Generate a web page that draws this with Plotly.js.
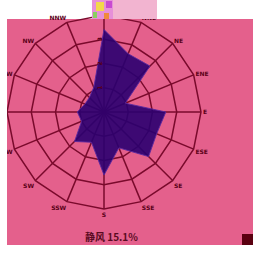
<!DOCTYPE html>
<html><head><meta charset="utf-8">
<script src="https://cdn.plot.ly/plotly-3.0.1.min.js"></script>
<style>body{margin:0;padding:0;background:#fff}#c{width:269px;height:255px}</style>
</head><body><div id="c"></div>
<script>
var directions = ["N","NNE","NE","ENE","E","ESE","SE","SSE","S","SSW","SW","WSW","W","WNW","NW","NNW"];
var frequency = [3.4,2.6,2.68,0.95,2.55,2.35,2.6,1.6,2.6,1.35,1.72,1.0,1.1,0.85,0.85,1.1];
var radialTicks = [1,2,3,4];
var calmLabel = "静风 15.1%";

var W = 269, H = 255;
function px(x){return x/W;}
function py(y){return 1 - y/H;}

var grid = "#7a0a2c";
var trace = {
  type: "scatterpolar",
  r: frequency.concat([frequency[0]]),
  theta: directions.concat([directions[0]]),
  mode: "lines",
  fill: "toself",
  fillcolor: "rgba(42,0,112,0.9)",
  line: {color: "rgba(90,40,160,0.9)", width: 1},
  hoverinfo: "skip"
};

var cx = 104, cy = 112, R = 97;
var layout = {
  width: W, height: H,
  margin: {l:0, r:0, t:0, b:0},
  paper_bgcolor: "#ffffff",
  showlegend: false,
  polar: {
    domain: {x: [px(cx-R), px(cx+R)], y: [py(cy+R), py(cy-R)]},
    bgcolor: "rgba(0,0,0,0)",
    gridshape: "linear",
    angularaxis: {
      type: "category",
      categoryarray: directions,
      direction: "clockwise",
      rotation: 90,
      showline: true, linecolor: grid, linewidth: 1.5,
      gridcolor: grid, gridwidth: 1.5,
      ticks: "",
      tickfont: {family: "DejaVu Sans", size: 6, color: "#5a0018", weight: "bold"}
    },
    radialaxis: {
      range: [0, 4],
      tickvals: radialTicks,
      angle: 97,
      tickangle: 0,
      side: "counterclockwise",
      showline: false,
      ticks: "",
      gridcolor: grid, gridwidth: 1.5,
      tickfont: {family: "DejaVu Sans", size: 6, color: "#5a0018", weight: "bold"}
    }
  },
  shapes: [
    {type:"rect", xref:"paper", yref:"paper", layer:"below", x0:px(7), x1:px(253), y0:py(245), y1:py(19), fillcolor:"#e4608c", line:{width:0}},
    {type:"rect", xref:"paper", yref:"paper", layer:"above", x0:0, x1:px(7), y0:0, y1:1, fillcolor:"#ffffff", line:{width:0}},
    {type:"rect", xref:"paper", yref:"paper", layer:"above", x0:px(113), x1:px(157), y0:py(19), y1:1, fillcolor:"#f2b4d0", line:{width:0}},
    {type:"rect", xref:"paper", yref:"paper", layer:"above", x0:px(92), x1:px(113), y0:py(19), y1:1, fillcolor:"#e690d8", line:{width:0}},
    {type:"rect", xref:"paper", yref:"paper", layer:"above", x0:px(96), x1:px(104), y0:py(11), y1:py(2), fillcolor:"#f2d84a", line:{width:0}},
    {type:"rect", xref:"paper", yref:"paper", layer:"above", x0:px(93), x1:px(97), y0:py(18), y1:py(12), fillcolor:"#8ad060", line:{width:0}},
    {type:"rect", xref:"paper", yref:"paper", layer:"above", x0:px(104), x1:px(109), y0:py(19), y1:py(13), fillcolor:"#f08a3a", line:{width:0}},
    {type:"rect", xref:"paper", yref:"paper", layer:"above", x0:px(106), x1:px(112), y0:py(8), y1:py(1), fillcolor:"#c84ad0", line:{width:0}},
    {type:"rect", xref:"paper", yref:"paper", layer:"above", x0:px(242), x1:px(253), y0:py(245), y1:py(234), fillcolor:"#5a0010", line:{width:0}}
  ],
  annotations: [
    {xref:"paper", yref:"paper", x:px(111), y:py(236), text: calmLabel, showarrow:false,
     font:{family:"Noto Sans CJK SC", size:10, color:"#5a0a22", weight:"bold"}, xanchor:"center", yanchor:"middle"}
  ]
};
Plotly.newPlot("c", [trace], layout, {displayModeBar:false, staticPlot:true});
</script></body></html>
